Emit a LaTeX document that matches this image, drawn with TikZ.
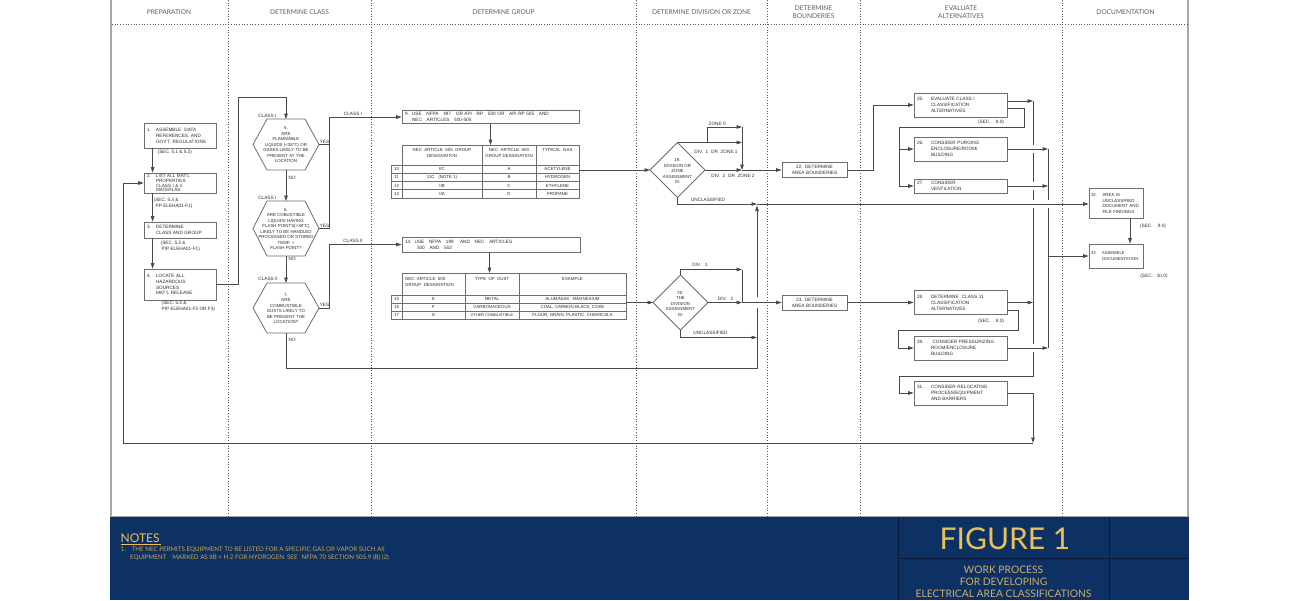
\documentclass[tikz,border=0pt]{standalone}
\usepackage{fontspec}
\setmainfont{Liberation Sans}
\newfontfamily\latofont{Lato}
\usetikzlibrary{arrows.meta,calc}
\definecolor{navy}{HTML}{0E3163}
\definecolor{gold}{HTML}{E6C15E}
\definecolor{goldb}{HTML}{CBAE6C}
\definecolor{goldn}{HTML}{C9A852}
\definecolor{lncol}{HTML}{4A4A4A}
\definecolor{boxcol}{HTML}{6E6E6E}
\definecolor{txtcol}{HTML}{2E2E2E}
\definecolor{hdrcol}{HTML}{5E5E5E}
\definecolor{framecol}{HTML}{A8A8A8}
\definecolor{divcol}{HTML}{555555}
\definecolor{figline}{HTML}{08193A}
\newcommand{\dtf}{\fontsize{4.7}{5.9}\selectfont}
\newcommand{\hxf}{\fontsize{4.4}{5.5}\selectfont}
\newcommand{\tbf}{\fontsize{4.4}{5.4}\selectfont}
\newcommand{\hdf}{\latofont\fontsize{6.6}{8}\selectfont}
\newcommand{\nm}[2]{\makebox[#1][l]{#2}}
\newcommand{\ti}[1]{\hspace*{#1}}
\begin{document}
\begin{tikzpicture}[x=1pt,y=-1pt,
 ln/.style={draw=lncol,line width=0.7pt},
 arr/.style={ln,-{Triangle[length=5.5pt,width=3.6pt]}},
 shp/.style={draw=boxcol,line width=0.8pt},
 box/.style={draw=boxcol,line width=0.8pt,inner xsep=3pt,inner ysep=1pt,font=\dtf,text=txtcol,align=left},
 hx/.style={font=\hxf,text=txtcol,align=center,inner sep=0pt},
 lbl/.style={font=\dtf,text=txtcol,inner sep=0.5pt},
 tb/.style={font=\tbf,text=txtcol,inner sep=0pt,align=center},
 tbl/.style={draw=boxcol,line width=0.7pt},
 hd/.style={font=\hdf,text=hdrcol,align=center,inner sep=0pt},
 dv/.style={draw=divcol,line width=0.7pt,dotted},
]
\useasboundingbox (0,0) rectangle (1296,600);
\fill[white] (0,0) rectangle (1296,600);
% bottom band
\fill[navy] (110,517) rectangle (1189,600);
% frame
\draw[framecol,line width=2pt] (111,0) -- (111,517);
\draw[framecol,line width=2pt] (1188,0) -- (1188,517);
\draw[framecol,line width=1pt] (110,516.5) -- (1189,516.5);
% dividers
\foreach \x in {228,371,636,767,860,1062} \draw[dv] (\x,0) -- (\x,516);
\draw[dv] (112,24.3) -- (1187,24.3);
% headers
\node[hd] (hp) at (169,12) {PREPARATION};
\node[hd] (hc) at (299.5,12) {DETERMINE CLASS};
\node[hd] (hg) at (503.5,12) {DETERMINE GROUP};
\node[hd] (hz) at (701.5,12) {DETERMINE DIVISION OR ZONE};
\node[hd] (hb) at (813.5,12) {DETERMINE\\BOUNDERIES};
\node[hd] (he) at (961,12) {EVALUATE\\ALTERNATIVES};
\node[hd] (hdc) at (1125.5,12) {DOCUMENTATION};

% ---------- preparation
\node[box,minimum width=72pt,text width=66pt,minimum height=25pt] (b1) at (180,135.5)
 {\nm{9pt}{1.}ASSEMBLE\ \ DATA\\\ti{9pt}REFERENCES, AND\\\ti{9pt}GOV'T. REGULATIONS};
\node[box,minimum width=72pt,text width=66pt,minimum height=20pt,font=\fontsize{4.6}{4.9}\selectfont] (b2) at (180,183)
 {\nm{9pt}{2.}LIST ALL MAT'L\\\ti{9pt}PROPERTIES\\\ti{9pt}CLASS I \& II\\\ti{9pt}MATERLAS};
\node[box,minimum width=72pt,text width=66pt,minimum height=16pt] (b3) at (180,230)
 {\nm{9pt}{3.}DETERMINE\\\ti{9pt}CLASS AND GROUP};
\node[box,minimum width=72pt,text width=66pt,minimum height=31pt] (b4) at (180,284.5)
 {\nm{9pt}{4.}LOCATE ALL\\\ti{9pt}HAZARDOUS\\\ti{9pt}SOURCES\\\ti{9pt}MAT'L RELEASE};
\node[lbl,anchor=west] (s1) at (157,152.7) {(SEC. 5.1 \& 5.2)};
\node[lbl,anchor=north west,align=left] (s2) at (153,197.5) {(SEC. 5.3 \&\\\ti{2pt}PP ELEHA01-F1)};
\node[lbl,anchor=north west,align=left] (s3) at (160,240) {(SEC. 5.3 \&\\\ti{1pt}PIP ELEHA01-F1)};
\node[lbl,anchor=north west,align=left] (s4) at (161,300.5) {(SEC. 5.4 \&\\PIP ELEHA01-F2 OR F3)};
\draw[arr] ($(b1.south west)+(9,0)$) -- ($(b2.north west)+(9,0)$);
\draw[arr] ($(b2.south west)+(9,0)$) -- ($(b3.north west)+(9,0)$);
\draw[arr] ($(b3.south west)+(9,0)$) -- ($(b4.north west)+(9,0)$);

% ---------- class hexagons
\coordinate (h5t) at (286,119); \coordinate (h5b) at (286,170); \coordinate (h5r) at (319,144.5);
\draw[shp] (253,144.5) -- (267,119) -- (305,119) -- (319,144.5) -- (305,170) -- (267,170) -- cycle;
\node[hx] (h5) at (286,145) {5.\\ARE\\FLAMMABLE\\LIQUIDS (<38°C) OR\\GASES LIKELY TO BE\\PRESENT AT THE\\LOCATION};
\coordinate (h6t) at (286,201); \coordinate (h6b) at (286,256); \coordinate (h6r) at (319,228.5);
\draw[shp] (253,228.5) -- (267,201) -- (305,201) -- (319,228.5) -- (305,256) -- (267,256) -- cycle;
\node[hx] (h6) at (286,229) {6.\\ARE COBUSTIBLE\\LIQUIDS HAVING\\FLASH POINTS(>38°C)\\LIKELY TO BE HANDLED\\PROCESSED OR STORED\\TEMP. >\\FLASH POINT?};
\coordinate (h7t) at (286,283); \coordinate (h7b) at (286,333); \coordinate (h7r) at (319,308);
\draw[shp] (253,308) -- (267,283) -- (305,283) -- (319,308) -- (305,333) -- (267,333) -- cycle;
\node[hx] (h7) at (286,308.5) {7.\\ARE\\COMBUSTIBLE\\DUSTS LIKELY TO\\BE PRESENT THE\\LOCATION?};

\draw[arr] (b4.east) -- (238,284.5) -- (238,97) -- (286,97) -- (h5t);
\draw[arr] (h5b) -- (h6t);
\draw[arr] (h6b) -- (h7t);
\node[lbl,anchor=east] (c5) at (277,115.5) {CLASS I};
\node[lbl,anchor=east] (c6) at (277,198) {CLASS I};
\node[lbl,anchor=east] (c7) at (278.5,278.5) {CLASS II};
\node[lbl,anchor=west] (n5) at (288,177.5) {NO};
\node[lbl,anchor=west] (n6) at (288,259) {NO};
\node[lbl,anchor=west] (n7) at (288,339.5) {NO};
\node[lbl,anchor=south] (y5) at (324.5,144) {YES};
\node[lbl,anchor=south] (y6) at (324.5,228) {YES};
\node[lbl,anchor=south] (y7) at (324.5,307.5) {YES};

% ---------- group
\node[box,minimum width=177pt,text width=171pt,minimum height=13pt] (b9) at (490.5,117)
 {9.\ \ USE\ \ \ NFPA\ \ \ 497\ \ \ OR API\ \ \ RP\ \ \ 500 OR\ \ \ API RP 505\ \ \ AND\\\ti{7pt}NEC\ \ \ ARTICLES\ \ \ 500-505};
\node[box,minimum width=178pt,text width=172pt,minimum height=15pt] (b14) at (491,244.5)
 {14.\ \ USE\ \ \ NFPA\ \ \ 199\ \ \ \ AND\ \ \ NEC\ \ \ ARTICLES\\\ti{12pt}500\ \ \ AND\ \ \ 502};
\draw[ln] (h5r) -- (330,144.5);
\draw[arr] (h6r) -| ($(b9.west)+(-72,0)$) -- (b9.west);
\draw[arr] (h7r) -| ($(b14.west)+(-72,0)$) -- (b14.west);
\node[lbl,anchor=south] (cl1) at (353,116) {CLASS I};
\node[lbl,anchor=south] (cl2) at (353,243.5) {CLASS II};

% table 1
\coordinate (t1top) at (490.5,145);
\draw[arr] (b9.south) -- (t1top);
\draw[tbl] (402,145) rectangle (579,198);
\draw[tbl] (391,165) rectangle (402,198);
\foreach \y in {165,173.25,181.5,189.75} \draw[tbl] (391,\y) -- (579,\y);
\draw[tbl] (482,145) -- (482,198);
\draw[tbl] (536,145) -- (536,198);
\node[tb,anchor=north] (t1h1) at (442,148.5) {NEC\ \ ARTICLE\ \ 505\ \ GROUP\\DESIGNATION};
\node[tb,anchor=north] (t1h2) at (509,148.5) {NEC\ \ ARTICLE\ \ 500\\GROUP DESIGNATION};
\node[tb,anchor=north] (t1h3) at (557.5,148.5) {TYPICAL\ \ GAS};
\foreach \y/\n/\a/\b/\c [count=\i] in {169.1/10/IIC/A/ACETYLENE,177.4/11/11C\ \ \ (NOTE 1)/B/HYDROGEN,185.6/12/IIB/C/ETHYLENE,193.9/13/IIA/D/PROPANE}{
 \node[tb] (t1n\i) at (396.5,\y) {\n};
 \node[tb] (t1a\i) at (442,\y) {\a};
 \node[tb] (t1b\i) at (509,\y) {\b};
 \node[tb] (t1c\i) at (557.5,\y) {\c};
}
% table 2
\coordinate (t2top) at (489.5,273);
\draw[arr] (b14.south -| t2top) -- (t2top);
\draw[tbl] (402,273) rectangle (626,319.3);
\draw[tbl] (391,295) rectangle (402,319.3);
\foreach \y in {295,303.1,311.2} \draw[tbl] (391,\y) -- (626,\y);
\draw[tbl] (465,273) -- (465,319.3);
\draw[tbl] (519,273) -- (519,319.3);
\node[tb,anchor=north west,align=left] (t2h1) at (405,277.5) {NEC\ \ ARTICLE\ \ 500\\GROUP\ \ DESIGNATION};
\node[tb,anchor=north] (t2h2) at (492,277.5) {TYPE\ \ OF\ \ DUST};
\node[tb,anchor=north] (t2h3) at (572.5,277.5) {EXAMPLE};
\foreach \y/\n/\a/\b/\c [count=\i] in {299.1/15/E/METAL/{ALUMINUM,\ \ MAGNESIUM},307.2/16/F/CARBONACEOUS/{COAL, CARBON BLACK, COKE},315.3/17/G/{\fontsize{3.9}{4}\selectfont OTHER COMBUSTIBLE}/{FLOUR, GRAIN, PLASTIC, CHEMICALS}}{
 \node[tb] (t2n\i) at (396.5,\y) {\n};
 \node[tb] (t2a\i) at (433.5,\y) {\a};
 \node[tb] (t2b\i) at (492,\y) {\b};
 \node[tb] (t2c\i) at (572.5,\y) {\c};
}

% ---------- division / zone
\coordinate (d19w) at (650,170); \coordinate (d19n) at (677.5,142.5);
\coordinate (d19e) at (705,170); \coordinate (d19s) at (677.5,197.5);
\draw[shp] (d19w) -- (d19n) -- (d19e) -- (d19s) -- cycle;
\node[hx] (d19) at (677.5,171) {19.\\DIVISION OR\\ZONE\\ASSIGNMENT\\IS:};
\coordinate (t1out) at (579,170);
\draw[arr] (t1out) -- (d19w);
\coordinate (j19) at (707,142.5); \coordinate (j19u) at (707,127);
\coordinate (m19a) at (742,127); \coordinate (m19b) at (742,142.5); \coordinate (m19c) at (742,170);
\draw[ln] (d19n) -- (j19) -- (j19u);
\draw[arr] (j19u) -- (m19a);
\draw[arr] (j19) -- (m19b);
\draw[arr] (m19a) -- (m19c);
\draw[arr] (d19e) -- (m19c);
\node[box,minimum width=65pt,text width=59pt,minimum height=15pt,align=center] (b22) at (814.5,170) {22. DETERMINE\\AREA BOUNDERIES};
\draw[arr] (m19c) -- (b22.west);
\coordinate (u1) at (757,204);
\draw[arr] (d19s) |- (u1);
\node[lbl,anchor=south west] (lz0) at (708,126.5) {ZONE 0};
\node[lbl] (lz1) at (716,151.5) {DIV.\ \ 1\ \ OR\ \ ZONE 1};
\node[lbl] (lz2) at (733,175.5) {DIV.\ \ 2\ \ OR\ \ ZONE 2};
\node[lbl] (lu1) at (708,200) {UNCLASSIFIED};

\coordinate (d20w) at (653,302.5); \coordinate (d20n) at (680.5,275);
\coordinate (d20e) at (708,302.5); \coordinate (d20s) at (680.5,330);
\draw[shp] (d20w) -- (d20n) -- (d20e) -- (d20s) -- cycle;
\node[hx] (d20) at (680.5,303.5) {20.\\THE\\DIVISION\\ASSIGNMENT\\IS:};
\coordinate (t2out) at (626,302.5);
\draw[arr] (t2out) -- (d20w);
\coordinate (m20a) at (742,269.5); \coordinate (m20b) at (742,302.5);
\draw[arr] (d20n) |- (m20a);
\draw[ln] (m20a) -- (m20b);
\draw[arr] (d20e) -- (m20b);
\node[box,minimum width=65pt,text width=59pt,minimum height=15pt,align=center] (b23) at (814.5,302.5) {23. DETERMINE\\AREA BOUNDERIES};
\draw[arr] (m20b) -- (b23.west);
\coordinate (u2) at (757,337.5);
\draw[arr] (d20s) |- (u2);
\node[lbl] (ld1) at (700,264.5) {DIV.\ \ \ 1};
\node[lbl] (ld2) at (725.5,299) {DIV.\ \ \ 2};
\node[lbl] (lu2) at (710.5,333) {UNCLASSIFIED};

% NO from hex 7 and unclassified bus
\coordinate (n7c) at (757,368);
\draw[ln] (h7b) |- (n7c) -- (757,308);
\draw[arr] (757,297) -- (757,205.5);

% ---------- evaluate alternatives
\node[box,minimum width=93pt,text width=87pt,minimum height=24pt] (b25) at (960.5,105)
 {\nm{14pt}{25.}EVALUATE CLASS I\\\ti{14pt}CLASSIFICATION\\\ti{14pt}ALTERNATIVES};
\node[box,minimum width=93pt,text width=87pt,minimum height=24pt] (b26) at (960.5,149)
 {\nm{14pt}{26.}CONSIDER PURGING\\\ti{14pt}ENCLOSURE/ROOM/\\\ti{14pt}BUILDING};
\node[box,minimum width=93pt,text width=87pt,minimum height=14pt] (b27) at (960.5,186)
 {\nm{14pt}{27.}CONSIDER\\\ti{14pt}VENTILATION};
\node[box,minimum width=93pt,text width=87pt,minimum height=24pt] (b28) at (960.5,302.5)
 {\nm{14pt}{28.}DETERMINE\ \ CLASS 11\\\ti{14pt}CLASSIFICATION\\\ti{14pt}ALTERNATIVES};
\node[box,minimum width=93pt,text width=87pt,minimum height=24pt] (b29) at (960.5,348)
 {\nm{14pt}{29.}\ CONSIDER PRESSURIZING\\\ti{14pt}ROOM/ENCLOSURE\\\ti{14pt}BUILDING};
\node[box,minimum width=93pt,text width=87pt,minimum height=24pt] (b31) at (960.5,393)
 {\nm{14pt}{31.}CONSIDER RELOCATING\\\ti{14pt}PROCESS/EQUIPMENT\\\ti{14pt}AND BARRIERS};
\node[lbl] (sec25) at (991,122.5) {(SEC.\ \ \ \ 8.0)};
\node[lbl] (sec28) at (991,321.5) {(SEC.\ \ \ \ 8.0)};

\draw[arr] (b22.east) -| ($(b25.west)+(-40,0)$) -- (b25.west);
\draw[arr] (b23.east) -- (b28.west);
\draw[arr] (b25.east |- 0,101) -- (1033,101);
\draw[ln] (b25.east |- 0,108.5) -| (1024,127) -| (899,186);
\draw[arr] (899,149) -- (b26.west);
\draw[arr] (899,186) -- (b27.west);
\draw[arr] (b26.east) -- (1048,149);
\draw[arr] (b27.east) -- (1048,186);
\draw[arr] (b28.east) -- (1033,302.5);
\draw[ln] (b28.east |- 0,310) -| (1018,330) -| (898,348);
\draw[arr] (898,348) -- (b29.west);
\draw[arr] (b29.east) -- (1048,348);
% bus x=1033 with gaps at crossings
\draw[ln] (1033,101) -- (1033,145);
\draw[ln] (1033,153) -- (1033,182);
\draw[ln] (1033,190) -- (1033,200);
\draw[ln] (1033,208) -- (1033,344);
\draw[arr] (1033,352) -- (1033,376) -| (899,393) -- (b31.west);
% bus x=1048
\draw[ln] (1048,149) -- (1048,200);
\draw[ln] (1048,208) -- (1048,348);
% documentation
\node[box,minimum width=54pt,text width=50pt,inner xsep=2pt,minimum height=30pt,font=\fontsize{4.4}{5.7}\selectfont] (b32) at (1116,203.5)
 {\nm{11.5pt}{32.}AREA IS\\\ti{11.5pt}UNCLASSIFIED\\\ti{11.5pt}DOCUMENT AND\\\ti{11.5pt}FILE FINDINGS};
\node[box,minimum width=54pt,text width=50pt,inner xsep=2pt,minimum height=24pt,font=\fontsize{4.2}{5.7}\selectfont] (b33) at (1116,256)
 {\nm{11pt}{33.}ASSEMBLE\\\ti{11pt}\mbox{DOCUMENTATION.}};
\node[lbl] (sec32) at (1153,226) {(SEC.\ \ \ \ 9.0)};
\node[lbl] (sec33) at (1154,276.5) {(SEC.\ \ \ 10.0)};
\draw[arr] (u1) -- (b32.west |- u1);
\draw[arr] (1048,256) -- (b33.west);
\draw[arr] (b32.south -| 1130,0) -- (b33.north -| 1130,0);
% loop back
\coordinate (lp) at (1033,443);
\draw[arr] (b31.east) -| (lp);
\draw[arr] (lp) -| ($(b2.west)+(-20,0)$) -- (b2.west);

% ---------- notes band
\node[anchor=south west,inner sep=0pt,font=\latofont\fontsize{12}{12}\selectfont,text=gold] (notes) at (120.5,542.5)
 {NOTES};
\draw[gold,line width=0.6pt] (notes.south west) ++(0,1.5) -- ++(40.5,0);
\node[anchor=north west,inner sep=0pt,align=left,font=\latofont\fontsize{6.2}{7.9}\selectfont,text=goldn] (note1) at (120.5,546.5)
 {1.\hspace{6pt}THE NEC PERMITS EQUIPMENT TO BE LISTED FOR A SPECIFIC GAS OR VAPOR SUCH AS\\\ti{9.5pt}EQUIPMENT\hspace{6pt}MARKED AS IIB + H 2 FOR HYDROGEN. SEE\hspace{4pt}NFPA 70 SECTION 505.9 (B) (2).};
\draw[figline,line width=0.8pt] (898,517) -- (898,600);
\draw[figline,line width=0.8pt] (1109.5,517) -- (1109.5,600);
\draw[figline,line width=0.8pt] (898,558.3) -- (1189,558.3);
\node[font=\latofont\fontsize{30}{30}\selectfont,text=gold,inner sep=0pt] (fig) at (1005,538.5) {FIGURE 1};
\node[align=center,inner sep=0pt,font=\latofont\fontsize{10.3}{12}\selectfont,text=goldb] (sub) at (1003.5,581.5)
 {WORK PROCESS\\FOR DEVELOPING\\ELECTRICAL AREA CLASSIFICATIONS};
\end{tikzpicture}
\end{document}
